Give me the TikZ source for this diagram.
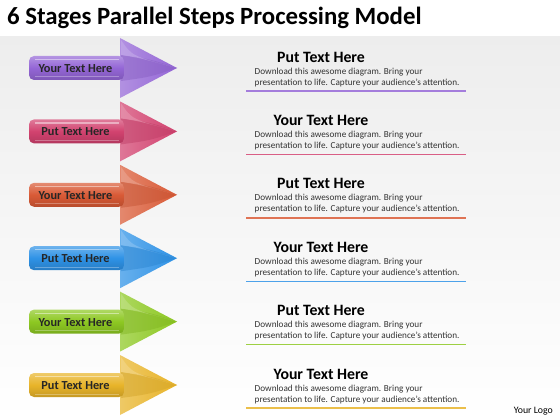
\documentclass[tikz,border=0pt]{standalone}
\usepackage{fontspec}
\setmainfont{Carlito}
\definecolor{cA}{HTML}{9466D6}
\definecolor{cB}{HTML}{D2426F}
\definecolor{cC}{HTML}{D95A36}
\definecolor{cD}{HTML}{2E92E6}
\definecolor{cE}{HTML}{8DC822}
\definecolor{cF}{HTML}{E8B42A}
\tikzset{
  title/.style={font=\fontsize{24.8}{28}\selectfont\bfseries, anchor=west, inner sep=0},
  barlabel/.style={font=\fontsize{12.3}{14}\selectfont\bfseries, text=black!85, inner sep=0},
  headtxt/.style={font=\fontsize{15.8}{18}\selectfont\bfseries, inner sep=0},
  bodytxt/.style={font=\fontsize{9.2}{11}\selectfont, text=black!80, align=left, anchor=west, inner sep=0},
  uline/.style={line width=1.4pt}
}
\begin{document}
\begin{tikzpicture}[x=1pt,y=-1pt]
\useasboundingbox (0,0) rectangle (560,420);
\fill[white] (0,0) rectangle (560,420);
\shade[top color=black!7, bottom color=white] (0,37) rectangle (560,420);
\node[title] (maintitle) at (7,18) {6 Stages Parallel Steps Processing Model};
\foreach \i/\c/\lab/\head in {0/cA/Your Text Here/Put Text Here,
                               1/cB/Put Text Here/Your Text Here,
                               2/cC/Your Text Here/Put Text Here,
                               3/cD/Put Text Here/Your Text Here,
                               4/cE/Your Text Here/Put Text Here,
                               5/cF/Put Text Here/Your Text Here}{
  \pgfmathsetmacro{\cy}{68+63.4*\i}
  % arrow head
  \shade[left color=\c!72!white, right color=\c] (120,\cy-30) -- (177,\cy) -- (120,\cy+30) -- cycle;
  \fill[\c!90!black, opacity=0.45] (121,\cy-13) .. controls (150,\cy-9) .. (177,\cy) .. controls (150,\cy+9) .. (121,\cy+13) -- cycle;
  \fill[\c!50!white, opacity=0.5] (121,\cy-28) .. controls (132,\cy-12) .. (177,\cy) .. controls (140,\cy-10) .. (121,\cy-13) -- cycle;
  % bar
  \shade[rounded corners=5pt, top color=\c!70!white, bottom color=\c!85!black, middle color=\c] (29,\cy-12) rectangle (124,\cy+12);
  \draw[white, opacity=0.45, line width=1.2pt] (35,\cy-8.5) -- (119,\cy-8.5);
  \draw[white, opacity=0.3, line width=1pt] (35,\cy+9) -- (119,\cy+9);
  \node[barlabel] (lab\i) at (75.5,\cy+0.5) {\lab};
  % texts
  \node[headtxt] (head\i) at (321,\cy-11) {\head};
  \node[bodytxt] (body\i) at (254.5,\cy+9.2) {Download this awesome diagram. Bring your\\presentation to life. Capture your audience’s attention.};
  \coordinate (ls\i) at (246,\cy+23);
  \coordinate (le\i) at (466,\cy+23);
  \draw[uline, \c!85!white] (ls\i) -- (le\i);
}
\node[font=\fontsize{9.8}{11}\selectfont, anchor=east, inner sep=0] (logo) at (553,411) {Your Logo};
\end{tikzpicture}
\end{document}
